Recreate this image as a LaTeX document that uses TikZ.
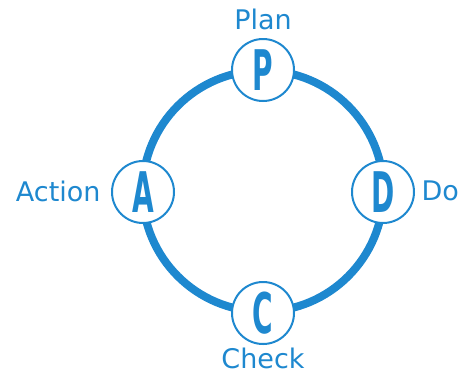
\documentclass[tikz,border=0pt]{standalone}
\usepackage{fontspec}
\setmainfont{DejaVu Sans}
\newfontfamily\letfont{DejaVu Sans}
\definecolor{pblue}{RGB}{30,136,207}
\begin{document}
\begin{tikzpicture}[x=1pt,y=-1pt,
  stage/.style={circle,draw=pblue,line width=2pt,fill=white,minimum size=62pt,inner sep=0pt},
  lbl/.style={text=pblue,font=\fontsize{27}{27}\selectfont},
  letter/.style={text=pblue}]
\useasboundingbox (0,0) rectangle (465,376);
\coordinate (O) at (263,191);
\draw[pblue,line width=8pt] (O) circle (120.5);
\node[stage] (P) at (263,70) {};
\node[stage] (D) at (383,192) {};
\node[stage] (C) at (263,313) {};
\node[stage] (A) at (143,192) {};
\foreach \n/\t in {P/P,D/D,C/C,A/A}{
  \node[letter] at (\n) {\scalebox{0.5}[1]{\letfont\bfseries\fontsize{56}{56}\selectfont \t}};
}
\node[lbl] (lp) at (263,19) {Plan};
\node[lbl,anchor=east] (la) at (104,191) {Action};
\node[lbl,anchor=west] (ld) at (418,191) {Do};
\node[lbl] (lc) at (263,358) {Check};
\end{tikzpicture}
\end{document}
